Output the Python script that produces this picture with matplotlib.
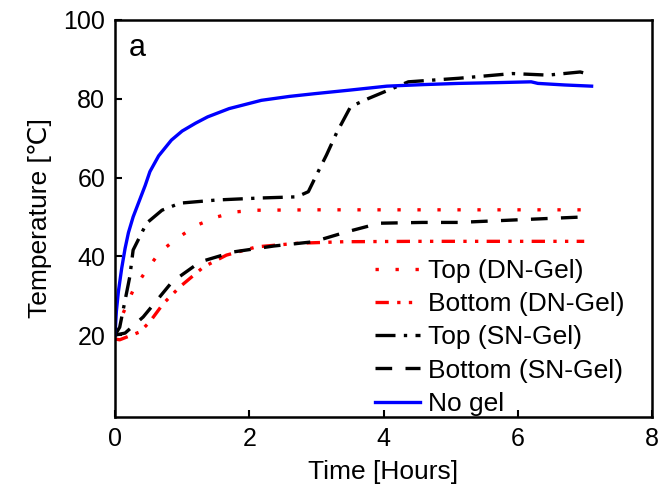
import matplotlib
matplotlib.use('Agg')
import matplotlib.pyplot as plt

# time [h] and temperature [C]
t_nogel = [0, 0.02, 0.05, 0.1, 0.15, 0.2, 0.27, 0.36, 0.45, 0.52, 0.65, 0.84, 1.0, 1.2, 1.38, 1.7, 2.18, 2.6, 2.98, 3.5, 4.05, 4.6, 5.12, 5.7, 6.2, 6.3, 6.7, 7.1]
y_nogel = [20, 26, 31, 37, 42, 46, 50, 54, 58, 61.5, 65.5, 69.5, 71.8, 73.8, 75.4, 77.5, 79.6, 80.6, 81.3, 82.2, 83.2, 83.6, 83.9, 84.1, 84.3, 83.9, 83.5, 83.2]

t_top_sn = [0, 0.07, 0.22, 0.27, 0.47, 0.7, 0.97, 1.52, 2.16, 2.71, 2.88, 3.0, 3.15, 3.3, 3.51, 3.78, 4.37, 5.12, 5.92, 6.45, 6.93, 7.09]
y_top_sn = [20, 22, 34.8, 41.6, 48.4, 51.7, 53.5, 54.3, 54.8, 55.1, 56.4, 60.6, 65.7, 71.3, 78, 80.1, 84.3, 85.2, 86.4, 86, 86.8, 86.1]

t_bot_sn = [0, 0.15, 0.42, 0.85, 1.27, 1.76, 2.36, 2.96, 3.45, 3.94, 4.58, 5.12, 5.65, 6.45, 6.99]
y_bot_sn = [20, 20.5, 24.6, 33.5, 38.6, 41.1, 42.6, 43.7, 46.2, 48.4, 48.6, 48.6, 49.0, 49.6, 50.0]

t_top_dn = [0, 0.12, 0.27, 0.47, 0.67, 0.92, 1.22, 1.52, 1.81, 2.11, 3.0, 4.0, 5.0, 6.0, 7.0]
y_top_dn = [21, 25.5, 31.4, 36.5, 41.1, 44.5, 47.9, 50, 51.3, 51.7, 51.8, 51.8, 51.8, 51.8, 51.8]

t_bot_dn = [0, 0.07, 0.37, 0.52, 0.72, 0.97, 1.32, 1.66, 2.11, 2.71, 3.41, 4.5, 5.5, 6.5, 6.99]
y_bot_dn = [19, 18.8, 20.8, 23.4, 28, 32.3, 37.3, 40.3, 42.4, 43.3, 43.7, 43.8, 43.8, 43.8, 43.8]

plt.rcParams['font.family'] = ['Liberation Sans', 'DejaVu Sans']

fig = plt.figure(figsize=(6.71, 4.96), dpi=100)
ax = fig.add_axes([0.1714, 0.1593, 0.8003, 0.8004])

lw = 2.4
ax.plot(t_top_dn, y_top_dn, color='red', lw=lw, linestyle=(0, (1, 5)), label='Top (DN-Gel)')
ax.plot(t_bot_dn, y_bot_dn, color='red', lw=lw, linestyle=(0, (4, 2.5, 1, 2.5, 1, 2.5)), label='Bottom (DN-Gel)')
ax.plot(t_top_sn, y_top_sn, color='black', lw=lw, linestyle=(0, (6, 2.5, 1, 2.5)), label='Top (SN-Gel)')
ax.plot(t_bot_sn, y_bot_sn, color='black', lw=lw, linestyle=(0, (5, 4)), label='Bottom (SN-Gel)')
ax.plot(t_nogel, y_nogel, color='#0000ff', lw=lw, label='No gel')

ax.set_xlim(0, 8)
ax.set_ylim(-0.8, 100)
ax.set_xticks([0, 2, 4, 6, 8])
ax.set_yticks([20, 40, 60, 80, 100])
ax.tick_params(direction='in', length=5, width=1.5, labelsize=18, pad=7, top=False, right=False)
for s in ax.spines.values():
    s.set_linewidth(1.8)

ax.set_xlabel('Time [Hours]', fontsize=19, labelpad=7)
ax.set_ylabel('Temperature [\u2103]', fontsize=19, labelpad=8)
ax.text(0.025, 0.91, 'a', transform=ax.transAxes, fontsize=22)

ax.legend(loc='lower right', bbox_to_anchor=(0.978, -0.037), frameon=False, fontsize=19,
          handlelength=1.7, handletextpad=0.3, labelspacing=0.35, borderaxespad=0.2)

fig.savefig('out.png', dpi=100)
